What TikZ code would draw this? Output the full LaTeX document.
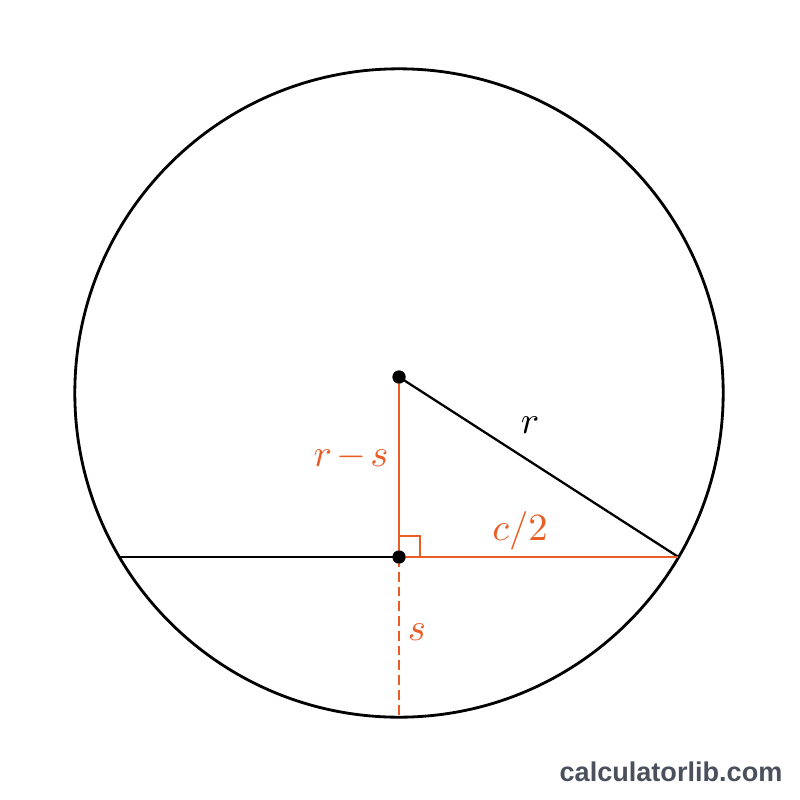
\documentclass[tikz,border=0pt]{standalone}
\usepackage{amsmath,amssymb}
\usepackage{fontspec}
\newfontfamily\markfont{Liberation Sans}
\usepackage{tikz}
\usetikzlibrary{positioning}
\definecolor{chordorange}{RGB}{234,93,36}
\definecolor{markgray}{RGB}{74,80,92}
\tikzset{x=0.01cm, y=-0.01cm,
    rim/.style={draw, line width=0.8pt},
    blackline/.style={draw, line width=0.65pt},
    redline/.style={draw=chordorange, line width=0.6pt},
    dashline/.style={draw=chordorange, line width=0.6pt, dash pattern=on 2.8pt off 1.4pt},
    dot/.style={circle, fill, inner sep=0pt, minimum size=0.13cm},
    redlabel/.style={text=chordorange},
    textnode/.style={font=\fontsize{11}{13}\selectfont}}

\begin{document}
\begin{tikzpicture}
\useasboundingbox (0,0) rectangle (800,800);
\fill[white] (0,0) rectangle (800,800);
\coordinate (o) at (399,393);
\coordinate (a) at (119.6,557);
\coordinate (b) at (678.4,557);
\coordinate (s) at (399,717);
\node[dot] (c) at (399,377) {};
\node[dot] (m) at (399,557) {};

\draw[rim] (o) circle [radius=3.24cm];
\draw[blackline] (a) -- (m.center);
\draw[blackline] (c.center) -- (b);
\draw[redline] (c.center) -- (m.center) -- (b);
\draw[redline] (399,536) -- (420,536) -- (420,557);
\draw[dashline] (m.center) -- (s);
\node[dot] at (c) {};
\node[dot] at (m) {};

\node[textnode, redlabel] (rs) at (351,457) {$\medmuskip=2mu r-s$};
\node[textnode, redlabel] (half) at (520,531) {$c/2$};
\node[textnode] (rr) at (530,425) {$r$};
\node[textnode, redlabel] (ss) at (417,632) {$s$};
\node[text=markgray] (mark) at (671,772) {\markfont\bfseries\fontsize{7.7}{9}\selectfont calculatorlib.com};
\end{tikzpicture}
\end{document}
